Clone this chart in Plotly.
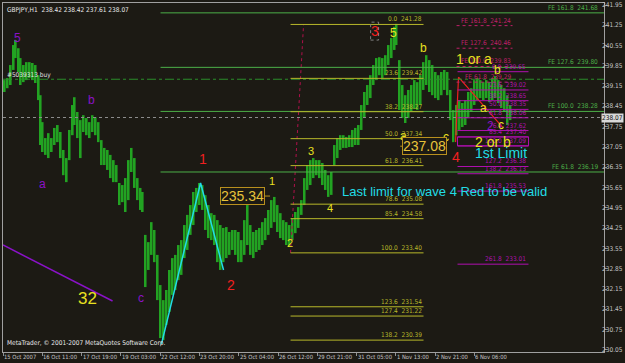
import plotly.graph_objects as go

# ---------------- data (bar index = hourly bars from 15 Oct 2007, grouped) ----------------
bar_idx = [1.3, 3.7, 6.2, 8.6, 10.3, 12.7, 14.3, 16.8, 19.2, 21.7,
           24.1, 26.5, 29.0, 30.6, 32.2, 34.7, 37.1, 39.6, 42.0, 44.5,
           46.9, 49.3, 51.8, 54.2, 56.7, 58.3, 60.7, 63.2, 65.6, 68.1,
           70.5, 72.9, 75.4, 77.8, 80.3, 82.7, 85.2, 87.6, 90.1, 92.5,
           94.9, 97.4, 99.8, 102.3, 104.7, 107.2, 109.6, 112.0, 113.7, 116.1,
           118.6, 121.0, 123.4, 125.9, 128.3, 130.8, 133.2, 135.7, 138.1, 140.5,
           143.0, 145.4, 147.9, 150.3, 152.8, 155.2, 157.7, 160.1, 162.5, 165.0,
           167.4, 169.9, 172.3, 174.8, 177.2, 179.6, 182.1, 184.5, 187.0, 189.4,
           191.9, 194.3, 196.7, 199.2, 201.6, 204.1, 206.5, 209.0, 211.4, 213.8,
           216.3, 218.7, 221.2, 223.6, 226.1, 228.5, 230.9, 233.4, 235.8, 238.3,
           240.7, 243.2, 245.6, 248.0, 250.5, 252.9, 255.4, 257.8, 260.3, 262.7,
           265.1, 267.6, 270.0, 272.5, 274.9, 277.4, 279.8, 282.2, 284.7, 287.1,
           289.6, 292.0, 294.5, 296.9, 299.4, 301.8, 304.2, 306.7, 309.1, 311.6,
           314.0, 316.5, 318.9, 320.5, 323.0, 325.4, 327.8, 330.3, 332.7, 335.2,
           337.6, 340.1, 342.5, 344.9, 347.4, 349.8, 352.3, 354.7, 357.2, 359.6,
           362.0, 364.5, 366.9, 369.4, 371.8, 374.3, 376.7, 379.1, 381.6, 384.0,
           386.5, 388.9, 391.4, 393.8, 396.2, 398.7, 401.1, 403.6, 406.0, 408.5,
           410.9, 413.3]

bar_high = [239.36, 239.43, 239.88, 240.57, 240.74, 240.46, 240.12, 239.88, 239.98, 239.98,
            239.95, 239.88, 239.53, 238.84, 237.91, 237.36, 237.53, 237.36, 237.71, 237.81,
            237.57, 236.95, 236.67, 237.64, 238.50, 238.77, 238.26, 237.98, 238.15, 238.05,
            237.91, 238.15, 238.08, 237.91, 237.29, 237.02, 236.95, 236.78, 236.60, 236.43,
            235.81, 235.74, 235.98, 236.60, 237.02, 236.67, 235.98, 235.64, 235.50, 234.02,
            233.77, 234.46, 234.19, 233.33, 232.29, 231.77, 232.12, 232.81, 233.22, 233.33,
            233.67, 233.84, 234.36, 234.71, 235.05, 235.50, 235.64, 235.81, 235.74, 235.39,
            235.05, 234.77, 234.71, 234.53, 234.36, 234.26, 234.29, 234.12, 234.19, 234.19,
            234.12, 233.84, 234.53, 235.05, 234.36, 234.12, 234.19, 234.26, 234.46, 234.60,
            234.88, 235.22, 235.33, 235.05, 234.77, 234.53, 234.46, 234.36, 234.60, 234.81,
            234.98, 235.22, 235.98, 236.43, 236.60, 236.67, 236.60, 236.60, 236.50, 236.26,
            236.08, 236.19, 237.12, 237.36, 237.46, 237.46, 237.40, 237.46, 237.64, 237.71,
            237.81, 238.50, 238.95, 239.19, 239.53, 239.88, 240.12, 240.15, 240.12, 240.22,
            240.57, 240.81, 241.20, 241.30, 240.05, 239.19, 238.84, 239.02, 239.19, 239.36,
            239.29, 239.53, 239.98, 240.22, 240.05, 239.88, 239.64, 239.53, 239.64, 239.71,
            239.64, 239.02, 238.33, 238.50, 238.67, 238.57, 238.67, 238.95, 239.08, 239.36,
            239.43, 239.36, 239.29, 239.36, 239.29, 239.43, 239.50, 239.36, 239.19, 239.08,
            238.84, 238.50]

bar_low = [238.95, 239.08, 239.19, 239.71, 240.12, 239.64, 239.19, 239.29, 239.36, 239.43,
           239.36, 239.26, 238.67, 237.12, 236.88, 236.78, 236.67, 236.88, 237.12, 237.22,
           236.67, 236.08, 235.84, 236.60, 237.46, 237.81, 237.36, 236.67, 237.57, 237.46,
           237.36, 237.57, 237.46, 237.22, 236.43, 236.43, 236.26, 235.98, 235.84, 235.84,
           235.05, 235.15, 234.81, 235.22, 236.19, 235.64, 235.22, 234.88, 234.81, 232.22,
           232.81, 233.33, 233.08, 231.77, 230.46, 230.39, 230.91, 231.36, 231.95, 232.12,
           232.46, 232.64, 233.22, 233.50, 234.02, 234.36, 234.81, 235.05, 234.88, 234.19,
           233.91, 233.84, 233.67, 233.08, 232.81, 233.08, 233.22, 233.33, 233.50, 233.33,
           233.08, 233.08, 233.33, 233.67, 233.33, 233.22, 233.43, 233.50, 233.67, 233.84,
           234.02, 234.26, 234.46, 234.12, 233.91, 233.84, 233.67, 233.60, 233.84, 234.08,
           234.26, 234.71, 235.05, 235.57, 235.74, 235.98, 236.08, 235.98, 235.74, 235.57,
           235.33, 235.40, 236.43, 236.67, 236.95, 237.02, 237.02, 237.05, 237.05, 237.12,
           237.12, 237.64, 238.05, 238.50, 238.74, 239.19, 239.36, 239.53, 239.43, 239.53,
           239.88, 240.12, 240.40, 240.57, 238.33, 238.05, 237.88, 238.05, 238.26, 238.36,
           238.33, 238.50, 239.02, 239.19, 238.95, 238.84, 238.74, 238.67, 238.84, 239.02,
           238.84, 237.98, 237.22, 237.46, 237.64, 237.74, 237.81, 238.05, 238.26, 238.50,
           238.67, 238.74, 238.67, 238.74, 238.60, 238.67, 238.74, 238.57, 238.40, 238.26,
           237.81, 237.98]

bid_price = 238.07
order_price = 239.39

x_tick_bars = [0, 32, 64, 96, 128, 160, 192, 224, 256, 288, 320, 352, 384]
x_tick_labels = ["15 Oct 2007", "16 Oct 11:00", "17 Oct 19:00", "19 Oct 03:00",
                 "22 Oct 12:00", "23 Oct 20:00", "25 Oct 04:00", "26 Oct 12:00",
                 "29 Oct 21:00", "31 Oct 05:00", "1 Nov 13:00", "2 Nov 21:00",
                 "6 Nov 06:00"]
y_tick_vals = [230.05, 230.75, 231.45, 232.15, 232.85, 233.55, 234.25, 234.95, 235.65,
               236.35, 237.05, 237.75, 238.45, 239.15, 239.85, 240.55, 241.25, 241.95]
y_tick_labels = ["230.05", "230.75", "231.45", "232.15", "232.85", "233.55", "234.25",
                 "234.95", "235.65", "236.35", "237.05", "237.75", "238.45", "239.15",
                 "239.85", "240.55", "241.25", "241.95"]

# Fibonacci retracement (yellow)
fib_y_pct = ["0.0", "23.6", "38.2", "50.0", "61.8", "78.6", "85.4", "100.0", "123.6", "127.4", "138.2"]
fib_y_price = [241.28, 239.42, 238.27, 237.34, 236.41, 235.08, 234.58, 233.40, 231.54, 231.22, 230.39]
fib_y_span = [234.2, 342.5]
# Fibonacci expansion (green)
fe_g_pct = ["161.8", "127.6", "100.0", "61.8"]
fe_g_price = [241.68, 239.80, 238.28, 236.19]
fe_g_start = 128.3
# Fibonacci retracement (magenta)
fib_m_pct = ["0.0", "23.6", "38.2", "50.0", "61.8", "76.4", "85.4", "100.0", "127.2", "138.2", "161.8", "261.8"]
fib_m_price = [239.65, 239.02, 238.65, 238.35, 238.06, 237.62, 237.40, 237.09, 236.38, 236.13, 235.53, 233.01]
fib_m_span = [370.2, 428.0]
# Fibonacci expansion (dotted magenta)
fe_m_pct = ["161.8", "127.6", "100.0", "61.8"]
fe_m_price = [241.24, 240.46, 239.83, 239.29]
fe_m_span = [369.4, 415.0]

# wave drawings
cyan_bars = [129.1, 160.9, 179.6]
cyan_prices = [230.26, 235.81, 232.81]
purple_bars = [0.0, 89.2]
purple_prices = [233.67, 231.74]
reddot_bars = [234.2, 244.8]
reddot_prices = [233.40, 241.28]
red_bars = [368.6, 371.0, 406.8]
red_prices = [237.22, 239.46, 237.74]

# ---------------- styling ----------------
BG = "#1c1a14"
X_MIN, X_MAX = -0.02, 489.5
Y_MIN, Y_MAX = 229.98, 242.02
FONT = "Liberation Sans, Arial, sans-serif"
SMALL = "Liberation Sans Narrow, DejaVu Sans Condensed, Liberation Sans, sans-serif"
AXC = "#c4c4c4"

fig = go.Figure()
fig.add_trace(go.Bar(
    x=bar_idx, y=[h - l for h, l in zip(bar_high, bar_low)], base=bar_low,
    width=1.6, marker=dict(color="#22a322", line=dict(width=0)),
    hoverinfo="skip", showlegend=False))

def line_trace(xs, ys, color, width=1, dash="solid"):
    fig.add_trace(go.Scatter(x=xs, y=ys, mode="lines", hoverinfo="skip", showlegend=False,
                             line=dict(color=color, width=width, dash=dash)))

line_trace(cyan_bars, cyan_prices, "#22dde6", 1.5)
line_trace(purple_bars, purple_prices, "#8a12c8", 1.5)
line_trace(reddot_bars, reddot_prices, "#b0104a", 1, "dot")
line_trace(red_bars, red_prices, "#f02020", 1.2)

shapes = []
anns = []

def hline(x0, x1, y, color, dash="solid", width=1, xref="x"):
    shapes.append(dict(type="line", xref=xref, yref="y", x0=x0, x1=x1, y0=y, y1=y,
                       line=dict(color=color, width=width, dash=dash)))

def text(t, x, y, color, size, xanchor="center", yanchor="middle", family=FONT, **kw):
    anns.append(dict(text=t, x=x, y=y, xref=kw.pop("xref", "x"), yref=kw.pop("yref", "y"),
                     showarrow=False, xanchor=xanchor, yanchor=yanchor,
                     font=dict(color=color, size=size, family=family), **kw))

# bid line and order line
hline(0, 1, bid_price, "#8c8c8c", "dot", 1, xref="paper")
hline(0, 1, order_price, "#2a8f2a", "dashdot", 1, xref="paper")
text("#5039313 buy", 1.5, order_price, "#e0e0e0", 6.5, xanchor="left", yanchor="bottom",
     family=SMALL, yshift=-2)

for p, v in zip(fe_g_pct, fe_g_price):
    hline(fe_g_start, X_MAX, v, "#4caf48")
    text("FE %s  %.2f" % (p, v), 486.5, v, "#4caf48", 6.5, xanchor="right", yanchor="bottom",
         family=SMALL, yshift=-1)

for p, v in zip(fib_y_pct, fib_y_price):
    hline(fib_y_span[0], fib_y_span[1], v, "#b8b82a")
    text("%s  %.2f" % (p, v), fib_y_span[1], v, "#b8b82a", 6.5, xanchor="right",
         yanchor="bottom", family=SMALL, yshift=-1)

for p, v in zip(fe_m_pct, fe_m_price):
    hline(fe_m_span[0], fe_m_span[1], v, "#c0206a", "dot")
    text("FE %s  %.2f" % (p, v), fe_m_span[1], v, "#c0206a", 6.5, xanchor="right",
         yanchor="bottom", family=SMALL, yshift=-1)

for p, v in zip(fib_m_pct, fib_m_price):
    hline(fib_m_span[0], fib_m_span[1], v, "#b010b0")
    text("%s  %.2f" % (p, v), fib_m_span[1], v, "#b010b0", 6.5, xanchor="right",
         yanchor="bottom", family=SMALL, yshift=-1)

# box around "2 or b"
shapes.append(dict(type="rect", xref="x", yref="y", x0=fib_m_span[0], x1=fib_m_span[1],
                   y0=fib_m_price[7], y1=fib_m_price[6], line=dict(color="#b010b0", width=1)))
# dotted box around red 3
shapes.append(dict(type="rect", xref="x", yref="y", x0=299.4, x1=305.9, y0=240.74, y1=241.36,
                   line=dict(color="#808080", width=1, dash="dot")))

# header and footer
text("GBPJPY,H1  238.42 238.42 237.61 238.07", 0.004, 0.997, "#e8e8e8", 6.5,
     xanchor="left", yanchor="top", family=SMALL, xref="paper", yref="paper")
text("MetaTrader, © 2001-2007 MetaQuotes Software Corp.", 0.003, 0.01, "#e8e8e8", 6.5,
     xanchor="left", yanchor="bottom", family=SMALL, xref="paper", yref="paper")

# x-axis labels (MT4 style: text starts at the tick)
for b, t in zip(x_tick_bars, x_tick_labels):
    text(t, b, 0, AXC, 5.8, xanchor="left", yanchor="top", family=SMALL, yref="paper",
         yshift=-1, borderpad=0)
# y-axis labels (right side)
for v, t in zip(y_tick_vals, y_tick_labels):
    text(t, 1, v, AXC, 6.5, xanchor="right", family=SMALL, xref="paper", xshift=20,
         borderpad=0)

# purple labels
PUR = "#8a12c8"
for t, x, y in [("5", 11.9, 240.81), ("b", 72.1, 238.67), ("a", 32.2, 235.77),
                ("c", 112.1, 231.84), ("2", 397.1, 237.78)]:
    text(t, x, y, PUR, 12)

# yellow labels
YEL = "#e8e020"
text("32", 68.9, 231.84, YEL, 17)
for t, x, y, s in [("1", 218.7, 235.88, 11), ("2", 233.4, 233.74, 11), ("3", 250.5, 236.91, 11),
                   ("4", 266.0, 234.95, 11), ("5", 318.1, 240.98, 12), ("b", 342.5, 240.46, 12),
                   ("a", 326.2, 237.43, 12), ("c", 360.4, 237.40, 12), ("1 or a", 384.0, 240.08, 14),
                   ("b", 402.8, 239.71, 12), ("a", 391.4, 238.39, 12), ("c", 405.2, 237.81, 12),
                   ("2 or b", 398.7, 237.22, 14)]:
    text(t, x, y, YEL, s)

# red labels
RED = "#f02020"
for t, x, y in [("1", 162.5, 236.64), ("2", 185.3, 232.29), ("3", 302.6, 241.05), ("4", 368.6, 236.71)]:
    text(t, x, y, RED, 14)

# cyan texts
CY = "#22dde6"
text("Last limit for wave 4 Red to be valid", 359.6, 235.50, CY, 13)
text("1st Limit", 405.2, 236.84, CY, 14)

# boxed price labels
for t, x, y in [("235.34", 195.1, 235.36), ("237.08", 343.3, 237.08)]:
    text(t, x, y, "#e6c23a", 14, bordercolor="#b8901e", borderwidth=1, borderpad=0, bgcolor=BG)
hline(212.5, 217.5, 235.36, "#b8901e")
hline(323.5, 327.5, 237.08, "#b8901e")

# current price box on axis
text("238.07", 1, bid_price, "#101010", 6.5, xanchor="right", family=SMALL,
     xref="paper", bgcolor="#d8d8d8", borderpad=0, xshift=20)

fig.update_layout(
    width=625, height=363, margin=dict(l=3, r=21, t=3, b=11),
    paper_bgcolor=BG, plot_bgcolor=BG, showlegend=False,
    shapes=shapes, annotations=anns,
    xaxis=dict(range=[X_MIN, X_MAX], tickmode="array", tickvals=x_tick_bars,
               ticks="outside", ticklen=3, tickcolor="#909090", showticklabels=False,
               showgrid=False, zeroline=False,
               showline=True, linecolor="#a0a0a0", mirror=True, automargin=False),
    yaxis=dict(range=[Y_MIN, Y_MAX], side="right", tickmode="array", tickvals=y_tick_vals,
               ticks="outside", ticklen=2, tickcolor="#909090", showticklabels=False,
               showgrid=False, zeroline=False,
               showline=True, linecolor="#a0a0a0", mirror=True, automargin=False),
)

fig.write_html("out.html")
